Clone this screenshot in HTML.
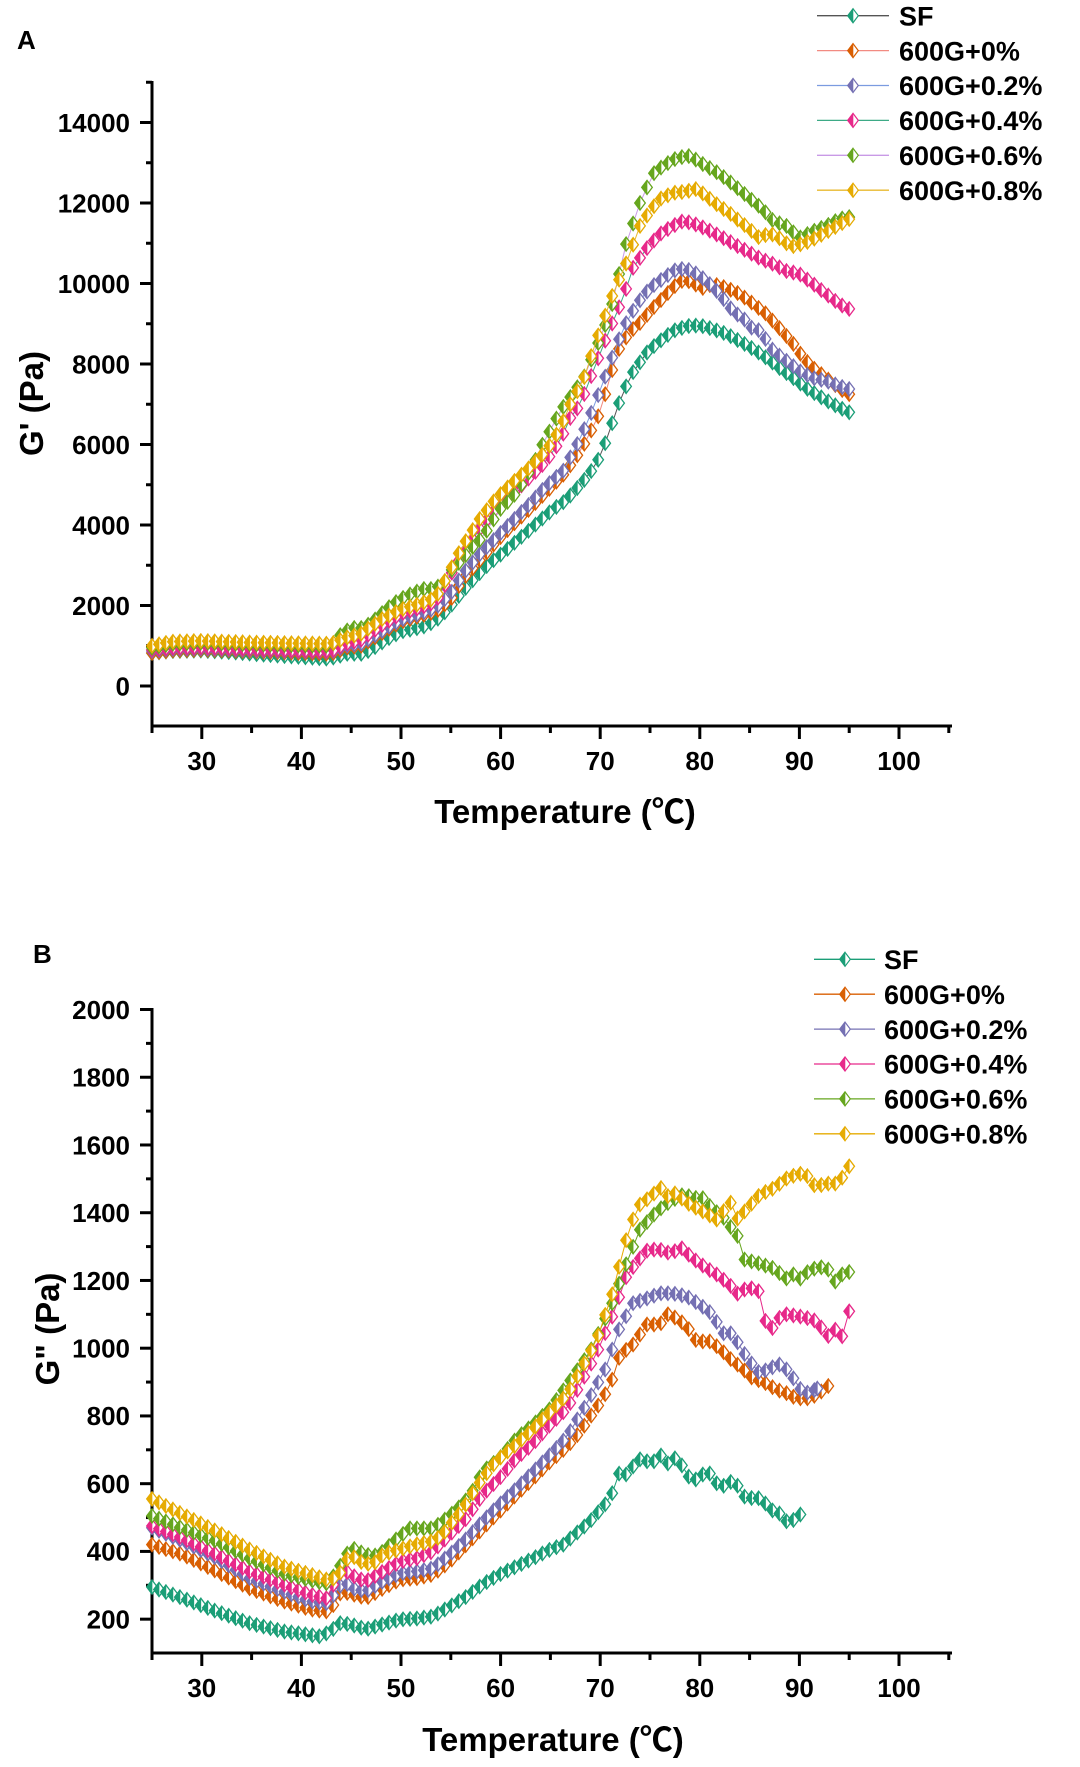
<!DOCTYPE html>
<html><head><meta charset="utf-8">
<style>
html,body{margin:0;padding:0;background:#fff;}
svg{display:block;}
text{font-family:"Liberation Sans","Noto Sans CJK SC",sans-serif;font-weight:bold;fill:#000;}
.tk{font-size:26px;}
.lg{font-size:27px;}
.tt{font-size:33px;}
</style></head><body>
<svg id="c" width="1080" height="1767" viewBox="0 0 1080 1767" xmlns="http://www.w3.org/2000/svg">
<rect width="1080" height="1767" fill="#fff"/>
<g id="axes" stroke="#000" fill="none"></g>
<g id="data"></g>
<g id="leg"></g>

<!-- Panel A -->
<text x="17" y="49" style="font-size:26px">A</text>
<g class="tk" text-anchor="end">
<text x="130" y="695.3">0</text>
<text x="130" y="614.8">2000</text>
<text x="130" y="534.3">4000</text>
<text x="130" y="453.8">6000</text>
<text x="130" y="373.3">8000</text>
<text x="130" y="292.8">10000</text>
<text x="130" y="212.3">12000</text>
<text x="130" y="131.8">14000</text>
</g>
<g class="tk" text-anchor="middle">
<text x="201.8" y="770">30</text>
<text x="301.4" y="770">40</text>
<text x="401" y="770">50</text>
<text x="500.6" y="770">60</text>
<text x="600.2" y="770">70</text>
<text x="699.8" y="770">80</text>
<text x="799.4" y="770">90</text>
<text x="899" y="770">100</text>
</g>
<text class="tt" x="565" y="823" text-anchor="middle">Temperature (℃)</text>
<text class="tt" transform="translate(43,403.5) rotate(-90)" text-anchor="middle">G' (Pa)</text>
<g class="lg">
<text x="899" y="25.4">SF</text>
<text x="899" y="60.3">600G+0%</text>
<text x="899" y="95.2">600G+0.2%</text>
<text x="899" y="130.1">600G+0.4%</text>
<text x="899" y="165">600G+0.6%</text>
<text x="899" y="199.9">600G+0.8%</text>
</g>

<!-- Panel B -->
<text x="33" y="963" style="font-size:26px">B</text>
<g class="tk" text-anchor="end">
<text x="130" y="1018.8">2000</text>
<text x="130" y="1086.5">1800</text>
<text x="130" y="1154.3">1600</text>
<text x="130" y="1222">1400</text>
<text x="130" y="1289.8">1200</text>
<text x="130" y="1357.5">1000</text>
<text x="130" y="1425.2">800</text>
<text x="130" y="1493">600</text>
<text x="130" y="1560.7">400</text>
<text x="130" y="1628.5">200</text>
</g>
<g class="tk" text-anchor="middle">
<text x="201.8" y="1697">30</text>
<text x="301.4" y="1697">40</text>
<text x="401" y="1697">50</text>
<text x="500.6" y="1697">60</text>
<text x="600.2" y="1697">70</text>
<text x="699.8" y="1697">80</text>
<text x="799.4" y="1697">90</text>
<text x="899" y="1697">100</text>
</g>
<text class="tt" x="553" y="1751" text-anchor="middle">Temperature (℃)</text>
<text class="tt" transform="translate(59,1329) rotate(-90)" text-anchor="middle">G" (Pa)</text>
<g class="lg">
<text x="884" y="969">SF</text>
<text x="884" y="1003.9">600G+0%</text>
<text x="884" y="1038.8">600G+0.2%</text>
<text x="884" y="1073.7">600G+0.4%</text>
<text x="884" y="1108.6">600G+0.6%</text>
<text x="884" y="1143.5">600G+0.8%</text>
</g>
</svg>
<script>
(function(){
var NS="http://www.w3.org/2000/svg";
function el(parent,name,attrs){var e=document.createElementNS(NS,name);for(var k in attrs)e.setAttribute(k,attrs[k]);parent.appendChild(e);return e;}
function X(t){return 152+(t-25)*9.96;}
function YA(v){return 686-v*0.04025;}
function YB(v){return 1009.5+(2000-v)*0.3387;}
var axes=document.getElementById('axes');
// Panel A axes
el(axes,'line',{x1:152,y1:81,x2:152,y2:727.5,'stroke-width':3});
el(axes,'line',{x1:150.5,y1:726,x2:952,y2:726,'stroke-width':3});
for(var v=0;v<=14000;v+=2000){var y=YA(v);el(axes,'line',{x1:140,y1:y,x2:152,y2:y,'stroke-width':3});}
for(var v=1000;v<=15000;v+=2000){var y=YA(v);el(axes,'line',{x1:146,y1:y,x2:152,y2:y,'stroke-width':3});}
for(var t=30;t<=100;t+=10){var x=X(t);el(axes,'line',{x1:x,y1:726,x2:x,y2:739,'stroke-width':3});}
for(var t=25;t<=105;t+=10){var x=X(t);el(axes,'line',{x1:x,y1:726,x2:x,y2:733,'stroke-width':3});}
// Panel B axes
el(axes,'line',{x1:152,y1:1008,x2:152,y2:1654.5,'stroke-width':3});
el(axes,'line',{x1:150.5,y1:1653,x2:952,y2:1653,'stroke-width':3});
for(var v=200;v<=2000;v+=200){var y=YB(v);el(axes,'line',{x1:140,y1:y,x2:152,y2:y,'stroke-width':3});}
for(var v=300;v<=1900;v+=200){var y=YB(v);el(axes,'line',{x1:146,y1:y,x2:152,y2:y,'stroke-width':3});}
for(var t=30;t<=100;t+=10){var x=X(t);el(axes,'line',{x1:x,y1:1653,x2:x,y2:1666,'stroke-width':3});}
for(var t=25;t<=105;t+=10){var x=X(t);el(axes,'line',{x1:x,y1:1653,x2:x,y2:1660,'stroke-width':3});}

var COL=['#1b9e77','#d95f02','#7570b3','#e7298a','#66a61e','#e6ab02'];
var LCA=['#555555','#f28b82','#7b9be0','#3daa86','#c99ae6','#e8b92f'];

var A=[
[[25,820],[27,870],[30,880],[33,840],[36,780],[40,720],[42.5,680],[43.5,720],[44.5,800],[46,800],[47,900],[48.5,1150],[50,1350],[51.5,1430],[52.6,1500],[53.6,1650],[54.7,1900],[56.1,2330],[57.4,2680],[58.8,3030],[60.2,3300],[61.6,3600],[63,3900],[65.3,4400],[66.5,4600],[68,5000],[69,5300],[70,5700],[70.6,6100],[71.3,6600],[72,7100],[72.7,7500],[73.3,7800],[74.8,8320],[76,8570],[77.3,8820],[78.7,8940],[80,8960],[81.3,8870],[82.7,8745],[84,8570],[85.4,8370],[86.7,8150],[88,7900],[89.4,7650],[90.7,7400],[92,7200],[93.4,7000],[95,6800]],
[[25,820],[27,880],[30,900],[35,860],[40,820],[43,800],[44.5,950],[46,1000],[48,1300],[50,1600],[52,1750],[53.5,1850],[55,2150],[56.2,2650],[58,3150],[59.6,3600],[61,3950],[62.9,4400],[64.5,4800],[66.3,5250],[67.5,5650],[68.6,6100],[70,6800],[71,7700],[72,8450],[73,8800],[74,9020],[75.3,9390],[76.7,9740],[78,10060],[78.7,10080],[79.3,10010],[80.3,9890],[81.3,9990],[82.7,9890],[84,9740],[85.4,9490],[86.7,9240],[88,8890],[89.4,8500],[90.4,8150],[91.4,7900],[92.7,7650],[94,7400],[95,7250]],
[[25,870],[27,920],[30,930],[35,890],[40,860],[43,850],[44.5,1000],[46,1050],[48,1350],[50,1650],[52,1800],[53.5,1950],[55,2300],[56.2,2780],[58,3300],[59.6,3700],[61,4050],[62.9,4520],[64.5,4950],[66.3,5350],[68,6150],[69.3,6900],[70.6,7750],[71.7,8500],[72.7,9070],[73.7,9490],[75,9890],[76.4,10140],[77.7,10360],[78.7,10360],[79.7,10240],[80.7,10060],[82,9740],[83.3,9320],[84.7,9070],[85.5,8800],[86,8850],[87.4,8320],[88.7,8080],[90,7830],[91.4,7650],[92.7,7580],[94,7450],[95,7380]],
[[25,900],[27,950],[30,960],[35,920],[40,880],[43,870],[44.5,1050],[46,1150],[48,1500],[50,1800],[52,1950],[53.5,2100],[54.6,2600],[56,3200],[57.9,3900],[59.5,4400],[61.2,4770],[63,5200],[64.6,5590],[66,6100],[67,6660],[68,7000],[69.3,7830],[71,8890],[72.3,9640],[73.3,10390],[74.7,10880],[76,11230],[77.3,11430],[78.3,11550],[79.3,11500],[80.7,11350],[82,11180],[83.3,11000],[84.7,10810],[86,10630],[87.4,10480],[88.7,10310],[90,10240],[91.4,9990],[92.7,9740],[94,9490],[95,9370]],
[[25,950],[27,1050],[30,1080],[35,1040],[40,1010],[43,1000],[44,1290],[45,1440],[46,1440],[47,1560],[48,1790],[49.2,2040],[50.2,2190],[51.2,2310],[52.3,2410],[53.3,2410],[54.3,2560],[55,2860],[56,3110],[57.1,3430],[58.1,3680],[58.8,3930],[59.8,4350],[61.6,4800],[63.3,5500],[64,5900],[66,6830],[68.3,7630],[70.3,8820],[71.2,9490],[72.6,10980],[74,12000],[75.3,12720],[76.3,12920],[77.7,13120],[79,13170],[80.3,12970],[82,12720],[83.3,12470],[85,12120],[86.3,11850],[87.4,11550],[88.7,11430],[90,11130],[91.4,11300],[92.7,11430],[94,11600],[95,11650]],
[[25,1000],[27,1100],[30,1120],[35,1080],[40,1060],[43,1050],[44.5,1200],[46,1300],[48,1650],[50,1900],[52,2050],[53.5,2200],[54.6,2700],[56,3400],[57.9,4150],[59.5,4650],[61.2,5050],[63,5450],[64.6,5850],[66,6400],[67,7000],[68.3,7600],[69.6,8570],[71.3,9760],[72.5,10430],[74,11430],[75,11800],[76,12100],[77.3,12250],[78.5,12280],[79.7,12350],[80.5,12200],[81.7,11970],[83,11750],[84,11550],[85,11350],[86,11130],[87,11250],[87.7,11180],[88.7,11000],[89.4,10930],[90.5,11000],[91.4,11100],[92.5,11250],[93.4,11380],[94.3,11500],[95,11600]]
];
var B=[
[[25,295],[28.1,262],[31.5,223],[34.8,188],[38.2,164],[40.5,155],[41.9,149],[42.9,164],[43.9,188],[44.9,185],[46.5,170],[48.2,185],[49.9,199],[51.6,202],[53.2,208],[54.9,237],[56.6,267],[58.2,303],[59.9,332],[61.6,356],[63.3,380],[65,406],[66.7,424],[67,438],[69,489],[70.5,539],[71.2,572],[71.8,630],[72.7,627],[73.3,651],[74,672],[74.7,666],[75.5,666],[76.2,686],[76.8,660],[77.5,675],[78.3,651],[79,616],[79.7,612],[80.3,627],[81,630],[81.7,601],[82.3,592],[83.2,607],[83.9,592],[84.5,562],[85.3,557],[86,557],[86.7,539],[87.4,518],[88,512],[88.7,489],[89.6,494],[90.2,512]],
[[25,420],[28.1,391],[31.5,341],[34.8,291],[38.2,253],[40.9,229],[42.5,223],[43.4,247],[44,282],[45.2,273],[46.5,262],[48.2,291],[49.9,317],[51.6,321],[53.2,332],[54.9,370],[56.6,421],[58.2,468],[59.9,518],[61.6,568],[63.3,616],[65,666],[66.7,710],[68,754],[70.3,852],[71.2,907],[72,981],[73.3,1011],[74.7,1070],[76,1070],[76.8,1100],[77.7,1088],[78.7,1065],[79.7,1020],[81,1020],[82,1000],[83,970],[84.3,940],[85.3,911],[86.3,902],[87.7,878],[88.7,867],[89.7,852],[90.9,852],[91.8,863],[93.1,893]],
[[25,470],[28.1,430],[31.5,380],[34.8,321],[38.2,282],[40.9,253],[42.5,247],[43.4,277],[44.2,312],[45.2,291],[46.5,282],[48.2,312],[49.9,335],[51.6,341],[53.2,350],[54.9,391],[56.6,438],[58.2,489],[59.9,539],[61.6,586],[63.3,636],[65,686],[66.7,740],[68.6,834],[70.5,937],[71.2,996],[71.8,1050],[72.7,1100],[73.3,1133],[74.7,1147],[76,1162],[77.3,1162],[78.7,1153],[80,1129],[81.3,1100],[82.3,1044],[83.3,1044],[84.3,991],[85.2,955],[86,926],[87,940],[88,952],[89,931],[90,881],[90.9,867],[91.8,881]],
[[25,475],[28.1,439],[31.5,391],[34.8,341],[38.2,303],[40.9,273],[42.5,262],[43,288],[43.7,335],[44.5,341],[45.6,321],[46.5,312],[48.2,341],[49.9,370],[51.6,380],[53.2,400],[54.9,450],[56.6,498],[58.2,568],[59.9,616],[61.6,675],[63.3,719],[65,775],[66.7,822],[69.6,982],[71.3,1100],[72.7,1218],[74,1265],[74.8,1291],[76,1291],[77,1280],[78.2,1295],[79.3,1265],[80.7,1236],[81.7,1218],[83,1188],[83.7,1159],[84.7,1177],[85.3,1177],[86,1167],[86.5,1085],[87.2,1055],[87.9,1088],[88.7,1100],[90,1094],[91.4,1085],[92.4,1055],[93.1,1029],[93.8,1065],[94.4,1029],[95,1109]],
[[25,505],[28.1,468],[31.5,430],[34.8,380],[38.2,335],[41.5,311],[42.5,306],[43.5,335],[44.5,391],[45.2,409],[46.2,394],[47.2,385],[48.2,400],[49.6,438],[50.9,468],[52.2,468],[53.2,468],[54.2,489],[55.6,524],[56.9,562],[58.2,636],[59.9,675],[61.6,734],[63.3,775],[65,822],[66.7,892],[69,990],[71.2,1133],[72.7,1256],[74,1350],[75.7,1404],[77,1433],[78.3,1453],[79.7,1443],[80.3,1443],[81.3,1410],[82.3,1389],[83.2,1354],[84,1324],[84.5,1262],[86,1250],[87.4,1236],[88.7,1206],[89.4,1218],[90,1203],[90.9,1227],[92,1241],[92.9,1232],[93.6,1197],[94.4,1221],[95,1225]],
[[25,555],[28.1,509],[31.5,459],[34.8,406],[38.2,356],[40.9,332],[42.5,317],[43.4,320],[44,341],[44.5,376],[45.2,385],[46.2,365],[47.2,362],[48.2,391],[49.9,406],[51.6,421],[53.2,430],[54.2,450],[55.2,489],[56.2,524],[57.2,572],[58.2,616],[59.3,657],[60.3,686],[61.6,716],[63.3,763],[65,813],[66.7,863],[69.6,1020],[71.2,1159],[72.5,1310],[73.3,1380],[74,1424],[75.3,1453],[76,1477],[76.7,1448],[77.5,1457],[79,1424],[80.3,1404],[81.7,1380],[83.2,1433],[83.8,1383],[84.7,1410],[86,1453],[87.4,1472],[88.7,1501],[90,1516],[90.9,1507],[91.6,1477],[92.7,1486],[93.8,1486],[94.4,1507],[95,1537]]
];
function interp(p,t){for(var i=0;i<p.length-1;i++){if(t<=p[i+1][0]){var a=p[i],b=p[i+1];var f=(t-a[0])/(b[0]-a[0]);return a[1]+f*(b[1]-a[1]);}}return p[p.length-1][1];}
function sample(p){var out=[];var end=p[p.length-1][0];var k=0;while(true){var t=Math.round((25+0.7*k)*100)/100;if(t>end+1e-6)break;out.push([t,interp(p,t)]);k++;}
 if(end-out[out.length-1][0]>0.25)out.push([end,p[p.length-1][1]]);return out;}
var W=5.3,H=7.0;
var data=document.getElementById('data');
function marker(x,y){return {o:'M'+x.toFixed(1)+' '+(y-H).toFixed(1)+'L'+(x+W).toFixed(1)+' '+y.toFixed(1)+'L'+x.toFixed(1)+' '+(y+H).toFixed(1)+'L'+(x-W).toFixed(1)+' '+y.toFixed(1)+'Z',
 f:'M'+x.toFixed(1)+' '+(y-H).toFixed(1)+'L'+(x-W).toFixed(1)+' '+y.toFixed(1)+'L'+x.toFixed(1)+' '+(y+H).toFixed(1)+'Z'};}
function drawSeries(p,Y,col,lcol){
 var s=sample(p);var pts=s.map(function(q){return X(q[0]).toFixed(1)+','+Y(q[1]).toFixed(1);}).join(' ');
 el(data,'polyline',{points:pts,fill:'none',stroke:lcol,'stroke-width':1});
 var g=el(data,'g',{});
 s.forEach(function(q){var m=marker(X(q[0]),Y(q[1]));
  el(g,'path',{d:m.o,fill:'#fff',stroke:col,'stroke-width':1.3});
  el(g,'path',{d:m.f,fill:col,stroke:col,'stroke-width':0.7});});
}
for(var i=0;i<6;i++)drawSeries(A[i],YA,COL[i],LCA[i]);
for(var i=0;i<6;i++)drawSeries(B[i],YB,COL[i],COL[i]);
// legends
var leg=document.getElementById('leg');
for(var i=0;i<6;i++){
 var y=15.7+i*34.9;el(leg,'line',{x1:817,y1:y,x2:889,y2:y,stroke:LCA[i],'stroke-width':1.3});
 var m=marker(853,y);el(leg,'path',{d:m.o,fill:'#fff',stroke:COL[i],'stroke-width':1.2});el(leg,'path',{d:m.f,fill:COL[i],stroke:COL[i],'stroke-width':0.6});
 var y2=959.3+i*34.9;el(leg,'line',{x1:814,y1:y2,x2:875,y2:y2,stroke:COL[i],'stroke-width':1.3});
 var m2=marker(845,y2);el(leg,'path',{d:m2.o,fill:'#fff',stroke:COL[i],'stroke-width':1.2});el(leg,'path',{d:m2.f,fill:COL[i],stroke:COL[i],'stroke-width':0.6});
}
})();
</script>
</body></html>
